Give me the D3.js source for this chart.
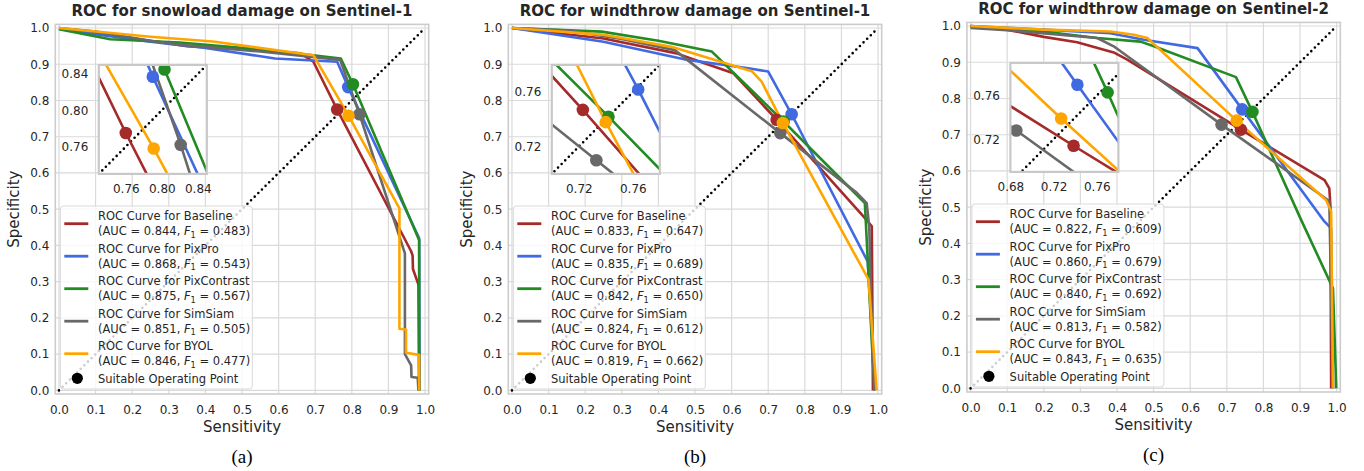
<!DOCTYPE html>
<html>
<head>
<meta charset="utf-8">
<script src="https://cdn.jsdelivr.net/npm/d3@7"></script>
<style>
body { margin: 0; background: #fff; }
svg { display: block; font-family: "DejaVu Sans", sans-serif; }
</style>
</head>
<body>
<svg id="chart" width="1364" height="471"></svg>
<script>
var methods = ["Baseline", "PixPro", "PixContrast", "SimSiam", "BYOL"];
var colors = ["#a52a2a", "#4169e1", "#228b22", "#696969", "#ffa500"];
var titles = ["ROC for snowload damage on Sentinel-1", "ROC for windthrow damage on Sentinel-1", "ROC for windthrow damage on Sentinel-2"];
var panelLabels = ["(a)", "(b)", "(c)"];
var mainTicks = [0.0, 0.1, 0.2, 0.3, 0.4, 0.5, 0.6, 0.7, 0.8, 0.9, 1.0];

// AUC and F1 per method
var aucA = [0.844, 0.868, 0.875, 0.851, 0.846], f1A = [0.483, 0.543, 0.567, 0.505, 0.477];
var aucB = [0.833, 0.835, 0.842, 0.824, 0.819], f1B = [0.647, 0.689, 0.650, 0.612, 0.662];
var aucC = [0.822, 0.860, 0.840, 0.813, 0.843], f1C = [0.609, 0.679, 0.692, 0.582, 0.635];

// (a) snowload, Sentinel-1 : [sensitivity, specificity]
var snowBaseline = [[0, 0.998], [0.1, 0.984], [0.2, 0.972], [0.35, 0.95], [0.5, 0.942], [0.66, 0.93], [0.695, 0.907], [0.760, 0.775], [0.962, 0.384], [0.966, 0.372], [0.967, 0.335], [0.982, 0.292], [0.984, 0.0]];
var snowPixPro = [[0, 1.0], [0.1, 0.983], [0.25, 0.962], [0.4, 0.945], [0.59, 0.916], [0.76, 0.907], [0.790, 0.837], [0.984, 0.42], [0.985, 0.0]];
var snowPixContrast = [[0, 0.997], [0.14, 0.969], [0.33, 0.96], [0.57, 0.939], [0.77, 0.916], [0.803, 0.845], [0.984, 0.414], [0.984, 0.0]];
var snowSimSiam = [[0, 1.0], [0.1, 0.99], [0.25, 0.965], [0.35, 0.952], [0.55, 0.935], [0.768, 0.912], [0.821, 0.762], [0.945, 0.378], [0.945, 0.1], [0.962, 0.069], [0.963, 0.037], [0.98, 0.035], [0.982, 0.0]];
var snowBYOL = [[0, 1.0], [0.25, 0.976], [0.42, 0.963], [0.695, 0.925], [0.791, 0.758], [0.93, 0.502], [0.93, 0.17], [0.948, 0.168], [0.948, 0.104], [0.984, 0.098], [0.984, 0.0]];
var snowOps = [[0.760, 0.775], [0.790, 0.837], [0.803, 0.845], [0.821, 0.762], [0.791, 0.758]];

// (b) windthrow, Sentinel-1
var windS1Baseline = [[0, 1.0], [0.25, 0.971], [0.45, 0.93], [0.514, 0.907], [0.605, 0.875], [0.723, 0.747], [0.96, 0.48], [0.983, 0.453], [0.986, 0.0]];
var windS1PixPro = [[0, 1.0], [0.25, 0.962], [0.48, 0.912], [0.646, 0.889], [0.700, 0.880], [0.764, 0.762], [0.972, 0.355], [0.99, 0.04], [0.99, 0.0]];
var windS1PixContrast = [[0, 1.0], [0.245, 0.99], [0.4, 0.965], [0.546, 0.935], [0.742, 0.742], [0.964, 0.517], [0.985, 0.095], [0.992, 0.0]];
var windS1SimSiam = [[0, 1.0], [0.154, 0.993], [0.3, 0.97], [0.445, 0.939], [0.733, 0.71], [0.942, 0.545], [0.969, 0.517], [0.976, 0.45], [0.985, 0.1], [0.99, 0.0]];
var windS1BYOL = [[0, 1.0], [0.254, 0.981], [0.436, 0.948], [0.655, 0.881], [0.682, 0.852], [0.740, 0.738], [0.974, 0.306], [0.996, 0.0]];
var windS1Ops = [[0.723, 0.747], [0.764, 0.762], [0.742, 0.742], [0.733, 0.710], [0.740, 0.738]];

// (c) windthrow, Sentinel-2
var windS2Baseline = [[0, 1.0], [0.099, 0.99], [0.2, 0.97], [0.291, 0.955], [0.391, 0.927], [0.428, 0.907], [0.7385, 0.714], [0.967, 0.575], [0.98, 0.552], [0.983, 0.502], [0.985, 0.0]];
var windS2PixPro = [[0, 1.0], [0.2, 0.99], [0.382, 0.98], [0.473, 0.962], [0.62, 0.939], [0.742, 0.770], [0.967, 0.46], [0.985, 0.442], [0.99, 0.0]];
var windS2PixContrast = [[0, 0.997], [0.2, 0.985], [0.346, 0.967], [0.464, 0.957], [0.501, 0.944], [0.725, 0.859], [0.770, 0.763], [0.903, 0.465], [0.99, 0.276], [0.999, 0.0]];
var windS2SimSiam = [[0, 0.995], [0.11, 0.988], [0.346, 0.967], [0.391, 0.944], [0.6855, 0.728], [0.976, 0.52], [0.98, 0.515], [0.99, 0.0]];
var windS2BYOL = [[0, 1.0], [0.2, 0.99], [0.382, 0.985], [0.446, 0.976], [0.483, 0.967], [0.727, 0.739], [0.971, 0.52], [0.985, 0.488], [0.99, 0.0]];
var windS2Ops = [[0.7385, 0.714], [0.742, 0.770], [0.770, 0.763], [0.6855, 0.728], [0.727, 0.739]];

// inset zoom windows and their ticks
var insetXA = [0.73, 0.85], insetYA = [0.73, 0.85], insetTicksXA = [0.76, 0.80, 0.84], insetTicksYA = [0.76, 0.80, 0.84];
var insetXB = [0.70, 0.78], insetYB = [0.70, 0.78], insetTicksXB = [0.72, 0.76], insetTicksYB = [0.72, 0.76];
var insetXC = [0.68, 0.78], insetYC = [0.69, 0.79], insetTicksXC = [0.68, 0.72, 0.76], insetTicksYC = [0.72, 0.76];

var panels = [
	{ title: titles[0], label: panelLabels[0], left: 55.3, top: 24.4,
	  curves: [snowBaseline, snowPixPro, snowPixContrast, snowSimSiam, snowBYOL], ops: snowOps, auc: aucA, f1: f1A,
	  ix: insetXA, iy: insetYA, itx: insetTicksXA, ity: insetTicksYA },
	{ title: titles[1], label: panelLabels[1], left: 508.3, top: 24.4,
	  curves: [windS1Baseline, windS1PixPro, windS1PixContrast, windS1SimSiam, windS1BYOL], ops: windS1Ops, auc: aucB, f1: f1B,
	  ix: insetXB, iy: insetYB, itx: insetTicksXB, ity: insetTicksYB },
	{ title: titles[2], label: panelLabels[2], left: 966.9, top: 22.4,
	  curves: [windS2Baseline, windS2PixPro, windS2PixContrast, windS2SimSiam, windS2BYOL], ops: windS2Ops, auc: aucC, f1: f1C,
	  ix: insetXC, iy: insetYC, itx: insetTicksXC, ity: insetTicksYC }
];

var svg = d3.select("#chart");
var W = 373.4, H = 369.6;
var textColor = "#262626";

function styleAxis(sel, size) {
	sel.attr("font-size", size).attr("font-family", "DejaVu Sans").style("color", textColor);
	sel.select(".domain").remove();
}

function drawPanel(p, pi) {
	var g = svg.append("g").attr("transform", "translate(" + p.left + "," + p.top + ")");

	var x = d3.scaleLinear().domain([-0.01, 1.01]).range([0, W]);
	var y = d3.scaleLinear().domain([-0.01, 1.01]).range([H, 0]);

	// grid
	g.selectAll(".vg").data(mainTicks).enter().append("line")
		.attr("x1", function(d) { return x(d); }).attr("x2", function(d) { return x(d); })
		.attr("y1", 0).attr("y2", H)
		.attr("stroke", "#dadada").attr("stroke-width", 1.2);
	g.selectAll(".hg").data(mainTicks).enter().append("line")
		.attr("y1", function(d) { return y(d); }).attr("y2", function(d) { return y(d); })
		.attr("x1", 0).attr("x2", W)
		.attr("stroke", "#dadada").attr("stroke-width", 1.2);
	g.append("rect").attr("width", W).attr("height", H)
		.attr("fill", "none").attr("stroke", "#cccccc").attr("stroke-width", 1.6);

	// axes
	g.append("g").attr("transform", "translate(0," + H + ")")
		.call(d3.axisBottom(x).tickValues(mainTicks).tickFormat(d3.format(".1f")).tickSize(0).tickPadding(11.3))
		.call(styleAxis, 12);
	g.append("g")
		.call(d3.axisLeft(y).tickValues(mainTicks).tickFormat(d3.format(".1f")).tickSize(0).tickPadding(6))
		.call(styleAxis, 12);

	// titles and labels
	g.append("text").attr("x", W / 2).attr("y", -8).attr("text-anchor", "middle")
		.attr("font-size", 15).attr("font-weight", "bold").attr("fill", textColor).text(p.title);
	g.append("text").attr("x", W / 2).attr("y", H + 38).attr("text-anchor", "middle")
		.attr("font-size", 15).attr("fill", textColor).text("Sensitivity");
	g.append("text").attr("transform", "translate(-36," + (H / 2) + ") rotate(-90)").attr("text-anchor", "middle")
		.attr("font-size", 15).attr("fill", textColor).text("Specificity");
	g.append("text").attr("x", W / 2).attr("y", H + 69.5).attr("text-anchor", "middle")
		.attr("font-family", "Liberation Serif").attr("font-size", 19).attr("fill", "#000").text(p.label);

	drawCurves(g, x, y, p);

	// inset
	var iw = 108, ih = 109;
	var ig = g.append("g").attr("transform", "translate(43.5,40.5)");
	var ix = d3.scaleLinear().domain(p.ix).range([0, iw]);
	var iy = d3.scaleLinear().domain(p.iy).range([ih, 0]);
	ig.append("clipPath").attr("id", "clip" + pi).append("rect").attr("width", iw).attr("height", ih);
	ig.append("rect").attr("width", iw).attr("height", ih).attr("fill", "#fff");
	var inner = ig.append("g").attr("clip-path", "url(#clip" + pi + ")");
	drawCurves(inner, ix, iy, p);
	ig.append("rect").attr("width", iw).attr("height", ih)
		.attr("fill", "none").attr("stroke", "#c8c8c8").attr("stroke-width", 2.2);
	ig.append("g").attr("transform", "translate(0," + ih + ")")
		.call(d3.axisBottom(ix).tickValues(p.itx).tickFormat(d3.format(".2f")).tickSize(0).tickPadding(10.5))
		.call(styleAxis, 12);
	ig.append("g")
		.call(d3.axisLeft(iy).tickValues(p.ity).tickFormat(d3.format(".2f")).tickSize(0).tickPadding(10.5))
		.call(styleAxis, 12);

	// legend
	var lw = 192, lh = 183;
	var lg = g.append("g").attr("transform", "translate(5," + (H - 5 - lh) + ")");
	lg.append("rect").attr("width", lw).attr("height", lh).attr("rx", 3)
		.attr("fill", "#fff").attr("fill-opacity", 0.8).attr("stroke", "#d9d9d9").attr("stroke-width", 1);
	methods.forEach(function(m, i) {
		var top = i * 32.5;
		lg.append("line").attr("x1", 4).attr("x2", 28).attr("y1", top + 17.7).attr("y2", top + 17.7)
			.attr("stroke", colors[i]).attr("stroke-width", 2.8);
		lg.append("text").attr("x", 37.7).attr("y", top + 14.2).attr("font-size", 11.5).attr("fill", textColor)
			.text("ROC Curve for " + m);
		var t = lg.append("text").attr("x", 37.7).attr("y", top + 29).attr("font-size", 11.5).attr("fill", textColor);
		t.append("tspan").text("(AUC = " + p.auc[i].toFixed(3) + ", ");
		t.append("tspan").attr("font-style", "italic").text("F");
		t.append("tspan").attr("font-size", 8.3).attr("dy", 2.8).text("1");
		t.append("tspan").attr("dy", -2.8).text(" = " + p.f1[i].toFixed(3) + ")");
	});
	lg.append("circle").attr("cx", 17).attr("cy", 172.3).attr("r", 5.6).attr("fill", "#000");
	lg.append("text").attr("x", 37.7).attr("y", 176.5).attr("font-size", 11.5).attr("fill", textColor)
		.text("Suitable Operating Point");
}

function drawCurves(g, x, y, p) {
	g.append("line")
		.attr("x1", x(0)).attr("y1", y(0)).attr("x2", x(1)).attr("y2", y(1))
		.attr("stroke", "#000").attr("stroke-width", 2.6)
		.attr("stroke-dasharray", "0 5.1").attr("stroke-linecap", "round");
	var line = d3.line().x(function(d) { return x(d[0]); }).y(function(d) { return y(d[1]); });
	g.selectAll(".curve").data(p.curves).enter().append("path")
		.attr("d", line)
		.attr("fill", "none")
		.attr("stroke", function(d, i) { return colors[i]; })
		.attr("stroke-width", 2.6)
		.attr("stroke-linejoin", "round");
	g.selectAll(".op").data(p.ops).enter().append("circle")
		.attr("cx", function(d) { return x(d[0]); })
		.attr("cy", function(d) { return y(d[1]); })
		.attr("r", 6.3)
		.attr("fill", function(d, i) { return colors[i]; });
}

panels.forEach(drawPanel);
</script>
</body>
</html>
